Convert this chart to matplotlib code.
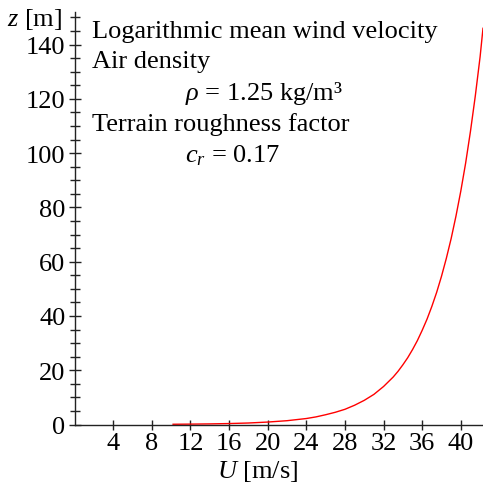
import matplotlib
matplotlib.use('Agg')
import matplotlib.pyplot as plt
from matplotlib.ticker import MultipleLocator

plt.rcParams['font.family'] = ['Liberation Serif', 'DejaVu Serif']
plt.rcParams['mathtext.fontset'] = 'custom'
plt.rcParams['mathtext.rm'] = 'Liberation Serif'
plt.rcParams['mathtext.it'] = 'Liberation Serif:italic'

# wind velocity U [m/s] vs height z [m]
velocity = [10.2, 12, 14, 16, 18, 20, 22, 24, 25, 26, 27, 28, 29, 30, 31, 32,
            33, 33.5, 34, 34.5, 35, 35.5, 36, 36.5, 37, 37.5, 38, 38.5, 39,
            39.5, 40, 40.5, 41, 41.5, 42, 42.3]
height = [0.09, 0.14, 0.22, 0.35, 0.55, 0.9, 1.4, 2.2, 2.8, 3.6, 4.5, 5.6, 7.1,
          8.9, 11.1, 14.0, 17.5, 19.6, 22.0, 24.6, 27.6, 30.9, 34.7, 38.8, 43.5,
          48.7, 54.6, 61.2, 68.5, 76.8, 86, 96.3, 108, 121, 135.5, 146]

x_ticks = [4, 8, 12, 16, 20, 24, 28, 32, 36, 40]
y_ticks = [0, 20, 40, 60, 80, 100, 120, 140]

info_lines = [
    ("Logarithmic mean wind velocity", 92, 37.7),
    ("Air density", 92, 68.5),
    (r"$\rho$ = 1.25 kg/m³", 185, 100),
    ("Terrain roughness factor", 92, 131.5),
    (r"$c_r$ = 0.17", 185, 162.5),
]

W, H = 483, 489
fig = plt.figure(figsize=(W / 100, H / 100), dpi=100)
ax = fig.add_axes([74.6 / W, 1 - 425.5 / H, (W - 74.6) / W, (425.5 - 13) / H])

ax.plot(velocity, height, color='red', lw=1.0)

ax.set_xlim(0, 42.3)
ax.set_ylim(0, 152)
ax.set_xticks(x_ticks)
ax.set_yticks(y_ticks)
ax.yaxis.set_minor_locator(MultipleLocator(5))

for side in ['top', 'right']:
    ax.spines[side].set_visible(False)
for side in ['left', 'bottom']:
    ax.spines[side].set_linewidth(1.0)
    ax.spines[side].set_color('#222222')

fs = 19
ax.tick_params(axis='both', which='major', direction='inout', length=9,
               width=1.0, color='#222222', labelsize=fs, pad=2)
ax.tick_params(axis='y', which='minor', direction='inout', length=7,
               width=1.0, color='#222222')
ax.tick_params(axis='x', which='major', length=7)

fig.text(62 / W, 1 - 20 / H, r"$z$ [m]", fontsize=fs, ha='right', va='center')
fig.text(257.5 / W, 1 - 472 / H, r"$U$ [m/s]", fontsize=fs, ha='center', va='center')

for txt, px, py in info_lines:
    fig.text(px / W, 1 - py / H, txt, fontsize=fs, ha='left', va='baseline')

fig.savefig('out.png', dpi=100)
